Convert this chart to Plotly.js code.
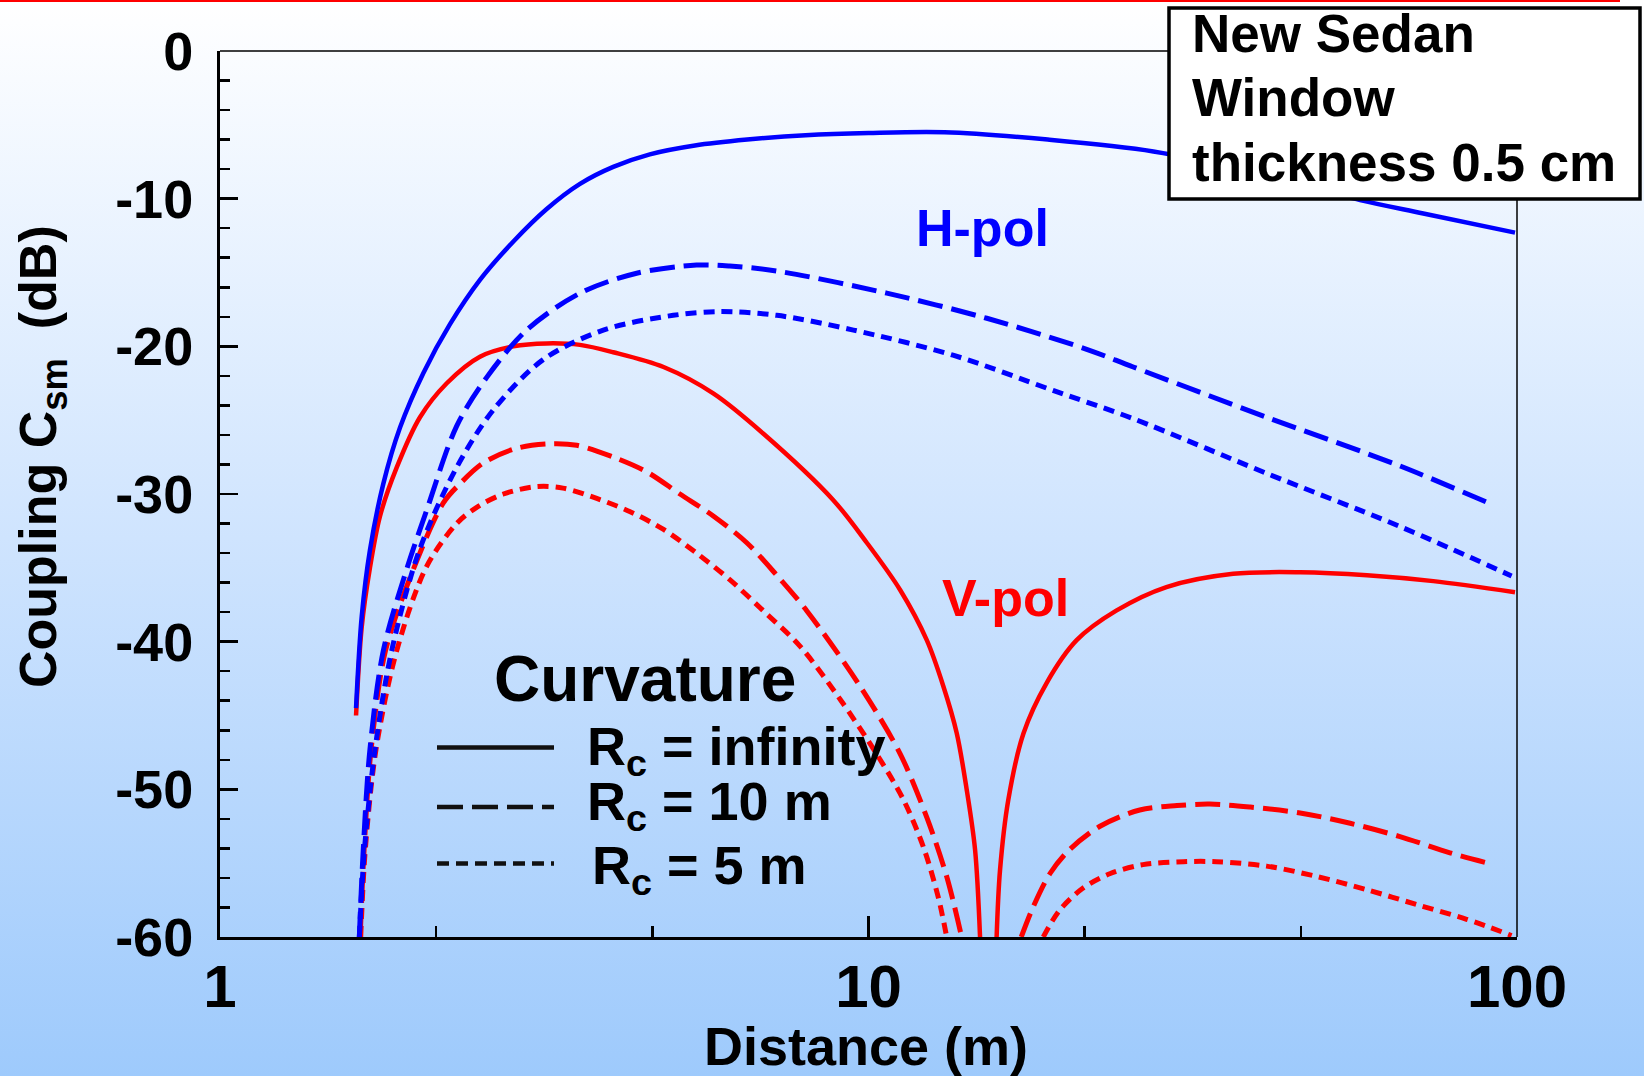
<!DOCTYPE html>
<html>
<head>
<meta charset="utf-8">
<script src="https://cdn.plot.ly/plotly-3.0.1.min.js"></script>
<style>
  html, body { margin: 0; padding: 0; }
  body { width: 1644px; height: 1076px; overflow: hidden;
         background: linear-gradient(to bottom, #ffffff 0%, #cfe4fe 50%, #9ecafc 100%); position: relative; }
  #topline { position: absolute; left: 0; top: 0; width: 1620px; height: 2px; background: #ff0000; z-index: 5; }
  #chart { position: absolute; left: 0; top: 0; width: 1644px; height: 1076px; }
</style>
</head>
<body>
<div id="topline"></div>
<div id="chart"></div>
<script>
// ---------------- data ----------------
// H-pol (blue)
const hInfX = [1.621, 1.654, 1.703, 1.786, 1.895, 2.059, 2.263, 2.517, 2.834, 3.19, 3.59, 4.04, 4.6, 5.4, 6.5, 8.0, 10, 13.1, 18.9, 27.5, 40, 57.3, 71.7, 99.3];
const hInfY = [-44.5, -38.3, -33.8, -29.3, -25.5, -21.8, -18.5, -15.5, -12.9, -10.7, -9.0, -7.85, -7.0, -6.4, -6.0, -5.7, -5.55, -5.5, -6.0, -6.8, -8.3, -10.1, -11.0, -12.3];

const h10X = [1.64, 1.663, 1.703, 1.786, 1.94, 2.083, 2.317, 2.578, 2.971, 3.59, 4.39, 5.43, 6.11, 7.22, 10.67, 15.22, 21.7, 25.6, 41.1, 66.0, 90.3];
const h10Y = [-60, -54.1, -47.3, -40.6, -35.1, -31.1, -25.4, -22.1, -18.9, -16.4, -15.05, -14.5, -14.56, -14.9, -16.4, -18.1, -20.2, -21.4, -24.8, -28.1, -30.6];

const h5X = [1.64, 1.67, 1.734, 1.84, 2.03, 2.317, 2.64, 3.15, 3.90, 5.0, 5.9, 7.22, 9.48, 13.5, 19.3, 25.6, 41.1, 66.0, 98.1];
const h5Y = [-60, -54.1, -47.3, -40.6, -33.8, -28.2, -24.3, -20.9, -18.9, -17.9, -17.65, -17.9, -18.9, -20.6, -23.0, -24.9, -28.6, -32.2, -35.55];

// V-pol (red)
const vInfX = [1.621, 1.654, 1.703, 1.765, 1.873, 2.034, 2.237, 2.517, 2.834, 3.19, 3.59, 4.04, 4.83, 5.77, 6.88, 8.82, 9.94, 11.19, 12.3, 13.04, 13.68, 14.17, 14.6, 14.86, null,
               15.76, 15.95, 16.43, 17.34, 18.82, 20.94, 24.1, 28.8, 36.5, 46.3, 58.7, 74.3, 99.3];
const vInfY = [-45, -39, -35, -31.5, -28.2, -24.8, -22.5, -20.7, -20.0, -19.8, -19.9, -20.4, -21.4, -23.2, -25.9, -30.4, -33.3, -36.5, -39.9, -43.0, -46.2, -50.0, -54.1, -60, null,
               -60, -55.5, -50.7, -46.2, -42.8, -39.9, -37.9, -36.3, -35.4, -35.3, -35.5, -35.9, -36.65];

const v10X = [1.645, 1.668, 1.71, 1.80, 1.987, 2.21, 2.345, 2.547, 2.87, 3.23, 3.55, 4.04, 4.55, 5.12, 5.77, 6.49, 7.22, 8.03, 9.70, 11.19, 12.3, 13.2, 13.92, null,
              17.2, 17.97, 19.05, 20.4, 22.75, 26.2, 29.9, 33.6, 38.8, 46.3, 55.3, 66.0, 78.8, 90.3];
const v10Y = [-60, -54.1, -47.3, -40.6, -35.1, -30.6, -29.3, -27.9, -26.9, -26.6, -26.7, -27.5, -28.5, -30.0, -31.5, -33.3, -35.5, -37.9, -43.0, -47.6, -51.9, -55.9, -60, null,
              -60, -57.9, -55.7, -54.1, -52.5, -51.4, -51.1, -51.0, -51.2, -51.6, -52.3, -53.2, -54.3, -55.0];

const v5X = [1.648, 1.675, 1.74, 1.873, 2.083, 2.317, 2.488, 2.735, 3.08, 3.38, 3.81, 4.29, 4.83, 5.43, 6.11, 6.88, 7.84, 9.04, 10.29, 11.32, 12.15, 12.81, 13.2, null,
             18.6, 19.7, 21.4, 23.6, 26.5, 30.6, 34.4, 41.1, 49.1, 58.7, 70.0, 83.6, 98.1];
const v5Y = [-60, -54.1, -47.3, -40.6, -34.9, -32.0, -30.9, -30.0, -29.5, -29.6, -30.3, -31.2, -32.4, -34.0, -35.8, -37.9, -40.3, -43.9, -47.6, -50.7, -53.9, -57.3, -60, null,
             -60, -58.2, -56.7, -55.7, -55.1, -54.9, -54.9, -55.2, -55.9, -56.8, -57.8, -58.8, -59.9];

// axes ticks
const xTickVals = [1, 10, 100];
const xTickText = ['1', '10', '100'];
const xMinorTicks = [2.154, 4.642, 21.54, 46.42];
const yTickVals = [-60, -50, -40, -30, -20, -10, 0];
const yTickText = ['-60', '-50', '-40', '-30', '-20', '-10', '0'];

// texts
const legendTitle = 'Curvature';
const legendLabels = ['R<sub>c</sub> = infinity', 'R<sub>c</sub> = 10 m', 'R<sub>c</sub> = 5 m'];
const boxLines = ['New Sedan', 'Window', 'thickness 0.5 cm'];

// ---------------- layout helpers ----------------
const W = 1644, H = 1076;
const L = 220, R = 1517, T = 51, B = 937;
const px = x => (x - L) / (R - L);
const py = y => (B - y) / (B - T);

const FONT = 'Liberation Sans, Arial, Helvetica, sans-serif';
const BLUE = '#0000ff', RED = '#ff0000';
const DASH_LONG = '25px,9px';
const DASH_SHORT = '11px,7px';

function tr(x, y, color, dash, width) {
  return { x: x, y: y, type: 'scatter', mode: 'lines', connectgaps: false,
           line: { color: color, width: width, dash: dash, shape: 'spline', smoothing: 0.9 },
           hoverinfo: 'skip', showlegend: false };
}

const data = [
  tr(v5X, v5Y, RED, DASH_SHORT, 5),
  tr(v10X, v10Y, RED, DASH_LONG, 5),
  tr(vInfX, vInfY, RED, 'solid', 4.5),
  tr(h5X, h5Y, BLUE, DASH_SHORT, 5),
  tr(h10X, h10Y, BLUE, DASH_LONG, 5),
  tr(hInfX, hInfY, BLUE, 'solid', 4.5)
];

function txt(text, x, y, size, color, xanchor, extra) {
  return Object.assign({ text: text, xref: 'paper', yref: 'paper', x: px(x), y: py(y),
    xanchor: xanchor || 'center', yanchor: 'middle', showarrow: false,
    font: { family: FONT, size: size, color: color || '#000', weight: 'bold' } }, extra || {});
}

const annotations = [
  txt('Coupling C<sub>sm</sub>  (dB)', 42, 456, 52, '#000', 'center', { textangle: -90 }),
  txt('Distance (m)', 866, 1046, 54),
  txt(legendTitle, 645, 679, 64),
  txt(legendLabels[0], 585, 750, 54, '#000', 'left'),
  txt(legendLabels[1], 585, 805, 54, '#000', 'left'),
  txt(legendLabels[2], 590, 869, 54, '#000', 'left'),
  txt('H-pol', 982, 228, 52, BLUE),
  txt('V-pol', 1005, 598, 52, RED),
  txt(boxLines[0], 1190, 34, 53, '#000', 'left'),
  txt(boxLines[1], 1190, 98, 53, '#000', 'left'),
  txt(boxLines[2], 1190, 162, 53, '#000', 'left')
];

function hline(x0, x1, y, dash, width, color) {
  return { type: 'line', xref: 'paper', yref: 'paper', x0: px(x0), x1: px(x1), y0: py(y), y1: py(y),
           line: { color: color || '#111', width: width, dash: dash } };
}

const shapes = [
  { type: 'line', xref: 'paper', yref: 'paper', x0: 0, x1: 1, y0: 1, y1: 1, line: { color: '#000', width: 1.5 } },
  { type: 'line', xref: 'paper', yref: 'paper', x0: 1, x1: 1, y0: 0, y1: 1, line: { color: '#000', width: 1.5 } },
  { type: 'rect', xref: 'paper', yref: 'paper', x0: px(1169), x1: px(1640), y0: py(199), y1: py(8),
    fillcolor: '#ffffff', line: { color: '#000', width: 3.5 } },
  hline(437, 554, 747.5, 'solid', 4.5),
  hline(437, 554, 807, '26px,9px', 4.5),
  hline(437, 554, 863.5, '12px,7px', 4.5)
];

const layout = {
  width: W, height: H,
  margin: { l: L, r: W - R, t: T, b: H - B, pad: 0 },
  paper_bgcolor: 'rgba(0,0,0,0)',
  plot_bgcolor: 'rgba(0,0,0,0)',
  showlegend: false,
  xaxis: {
    type: 'log', range: [0, 2], showgrid: false, zeroline: false,
    showline: true, linecolor: '#000', linewidth: 3,
    tickmode: 'array', tickvals: xTickVals, ticktext: xTickText,
    ticks: 'inside', ticklen: 21, tickwidth: 2.5, tickcolor: '#000',
    ticklabelstandoff: -5,
    tickfont: { family: FONT, size: 60, color: '#000', weight: 'bold' },
    minor: { tickmode: 'array', tickvals: xMinorTicks, ticks: 'inside', ticklen: 11, tickwidth: 2.5, tickcolor: '#000', showgrid: false }
  },
  yaxis: {
    range: [-60, 0], showgrid: false, zeroline: false,
    showline: true, linecolor: '#000', linewidth: 3,
    tickmode: 'array', tickvals: yTickVals, ticktext: yTickText,
    ticks: 'inside', ticklen: 18, tickwidth: 2.5, tickcolor: '#000',
    ticklabelstandoff: 13,
    tickfont: { family: FONT, size: 54, color: '#000', weight: 'bold' },
    minor: { dtick: 2, ticks: 'inside', ticklen: 10, tickwidth: 2.5, tickcolor: '#000', showgrid: false }
  },
  annotations: annotations,
  shapes: shapes
};

Plotly.newPlot('chart', data, layout, { staticPlot: true, displayModeBar: false });
</script>
</body>
</html>
